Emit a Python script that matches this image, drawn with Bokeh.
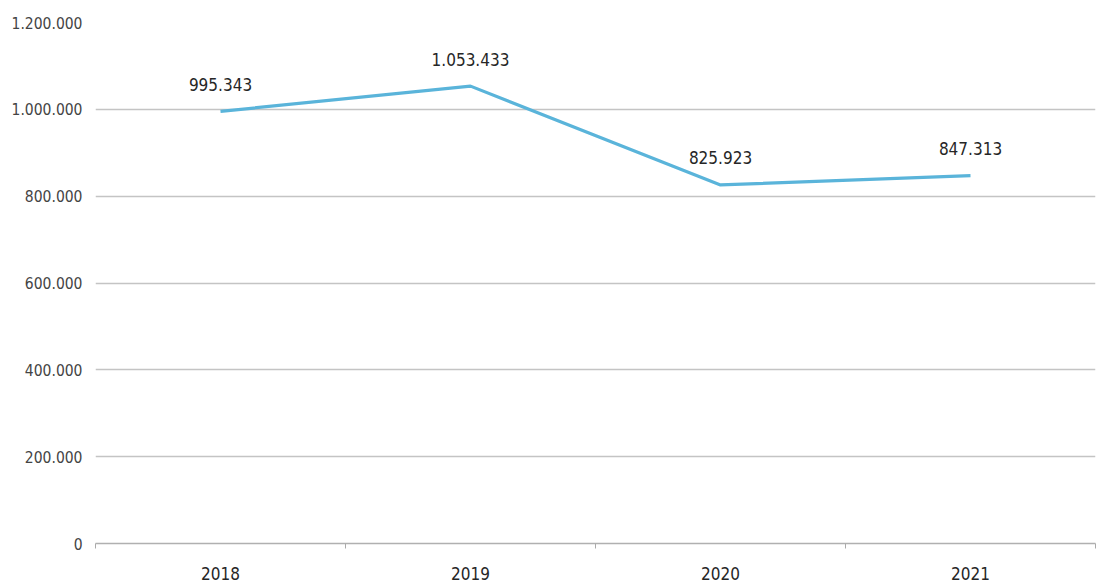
from bokeh.plotting import figure
from bokeh.models import ColumnDataSource, FixedTicker, Range1d
from bokeh.core.properties import value
from bokeh.embed import file_html
from bokeh.resources import INLINE

years = ["2018", "2019", "2020", "2021"]
values = [995343, 1053433, 825923, 847313]
value_labels = ["995.343", "1.053.433", "825.923", "847.313"]
y_ticks = [0, 200000, 400000, 600000, 800000, 1000000, 1200000]
y_tick_labels = ["0", "200.000", "400.000", "600.000", "800.000", "1.000.000", "1.200.000"]

FONT = "DejaVu Sans Condensed"
TXT = "#262626"

xs = [i + 0.5 for i in range(len(years))]
src = ColumnDataSource(dict(x=xs, y=values, lab=value_labels))

p = figure(width=1100, height=586, output_backend="svg", toolbar_location=None,
           x_range=Range1d(0, len(years)), y_range=Range1d(0, 1200000),
           min_border_left=95, min_border_right=5, min_border_top=22, min_border_bottom=43)
p.outline_line_color = None
p.background_fill_color = "white"
p.border_fill_color = "white"

p.line("x", "y", source=src, line_color="#5ab4da", line_width=3.2)
p.text("x", "y", text="lab", source=src, text_align="center", text_baseline="alphabetic",
       y_offset=-27, text_font=value(FONT), text_font_size="17px", text_color=TXT)

# y axis
p.yaxis.ticker = FixedTicker(ticks=y_ticks)
p.yaxis.major_label_overrides = {t: l for t, l in zip(y_ticks, y_tick_labels)}
p.yaxis.axis_line_color = None
p.yaxis.major_tick_line_color = None
p.yaxis.minor_tick_line_color = None
p.yaxis.major_label_standoff = 7
p.yaxis.major_label_text_font = FONT
p.yaxis.major_label_text_font_size = "15.5px"
p.yaxis.major_label_text_color = "#444444"
p.ygrid.ticker = FixedTicker(ticks=y_ticks[1:])
p.ygrid.grid_line_color = "#c4c4c4"
p.ygrid.grid_line_width = 1.5

# x axis
p.xaxis.ticker = FixedTicker(ticks=xs, minor_ticks=list(range(len(years) + 1)))
p.xaxis.major_label_overrides = {x: y for x, y in zip(xs, years)}
p.xaxis.major_tick_line_color = None
p.xaxis.minor_tick_line_color = "#aaaaaa"
p.xaxis.minor_tick_in = 0
p.xaxis.minor_tick_out = 5
p.xaxis.axis_line_color = "#b0b0b0"
p.xaxis.axis_line_width = 1.5
p.xaxis.major_label_standoff = 17
p.xaxis.major_label_text_font = FONT
p.xaxis.major_label_text_font_size = "17px"
p.xaxis.major_label_text_color = TXT
p.xgrid.grid_line_color = None

open("out.html", "w").write(file_html(p, INLINE))
